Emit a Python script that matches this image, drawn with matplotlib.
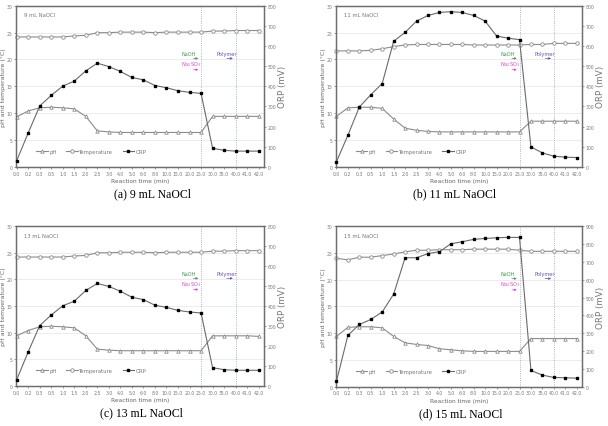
import numpy as np
import matplotlib.pyplot as plt
from matplotlib.lines import Line2D

# reaction time labels (categorical x axis)
times = ['0.0', '0.2', '0.3', '0.5', '1.0', '1.5', '2.0', '2.5', '3.0', '4.0', '5.0',
         '6.0', '8.0', '10.0', '15.0', '20.0', '25.0', '30.0', '35.0', '40.0', '41.0', '42.0']

titles = ['9 mL NaOCl', '11 mL NaOCl', '13 mL NaOCl', '15 mL NaOCl']
captions = ['(a) 9 mL NaOCl', '(b) 11 mL NaOCl', '(c) 13 mL NaOCl', '(d) 15 mL NaOCl']

ph_a = [9.3, 10.4, 11.0, 11.1, 11.0, 10.8, 9.4, 6.7, 6.5, 6.4, 6.4, 6.4, 6.4, 6.4, 6.4, 6.4, 6.4,
        9.4, 9.4, 9.4, 9.4, 9.4]
temp_a = [24.2, 24.2, 24.2, 24.2, 24.2, 24.4, 24.5, 25.0, 25.0, 25.1, 25.1, 25.1, 25.0, 25.1, 25.1,
          25.1, 25.1, 25.3, 25.3, 25.4, 25.4, 25.4]
orp_a = [30, 168, 302, 355, 401, 426, 477, 515, 498, 474, 444, 432, 404, 393, 378, 370, 365,
         92, 82, 78, 78, 78]

ph_b = [9.4, 11.0, 11.1, 11.1, 10.9, 8.9, 7.2, 6.8, 6.6, 6.5, 6.5, 6.5, 6.5, 6.5, 6.5, 6.5, 6.5,
        8.5, 8.5, 8.5, 8.5, 8.5]
temp_b = [21.6, 21.6, 21.6, 21.7, 22.0, 22.4, 22.7, 22.8, 22.8, 22.8, 22.8, 22.8, 22.7, 22.7, 22.7,
          22.7, 22.7, 22.8, 22.8, 23.0, 23.0, 23.0]
orp_b = [25, 157, 297, 358, 414, 624, 668, 724, 752, 767, 771, 767, 752, 724, 650, 639, 632,
         99, 69, 53, 48, 46]

ph_c = [9.4, 10.4, 11.1, 11.2, 11.1, 10.9, 9.4, 6.9, 6.7, 6.6, 6.6, 6.6, 6.6, 6.6, 6.6, 6.6, 6.6,
        9.4, 9.4, 9.4, 9.4, 9.3]
temp_c = [24.2, 24.2, 24.2, 24.2, 24.2, 24.4, 24.5, 25.0, 25.0, 25.1, 25.1, 25.1, 25.0, 25.1, 25.1,
          25.1, 25.1, 25.3, 25.3, 25.4, 25.4, 25.4]
orp_c = [30, 170, 302, 355, 401, 424, 478, 513, 498, 474, 444, 432, 404, 393, 378, 370, 365,
         91, 81, 78, 78, 78]

ph_d = [9.4, 11.1, 11.2, 11.2, 11.0, 9.4, 8.2, 7.9, 7.7, 7.1, 6.9, 6.7, 6.6, 6.6, 6.6, 6.6, 6.6,
        9.0, 9.0, 9.0, 9.0, 9.0]
temp_d = [24.0, 23.7, 24.2, 24.2, 24.5, 24.8, 25.2, 25.5, 25.5, 25.6, 25.6, 25.6, 25.7, 25.7, 25.7,
          25.7, 25.5, 25.3, 25.3, 25.3, 25.3, 25.3]
orp_d = [30, 288, 349, 377, 419, 519, 723, 723, 746, 757, 801, 813, 826, 831, 835, 837, 837,
         91, 65, 52, 50, 48]

ph_all = [ph_a, ph_b, ph_c, ph_d]
temp_all = [temp_a, temp_b, temp_c, temp_d]
orp_all = [orp_a, orp_b, orp_c, orp_d]
orp_max = [800, 800, 800, 900]

fig = plt.figure(figsize=(6.08, 4.27), dpi=100)

# axes boxes [left, bottom, width, height]
boxes = [[0.027, 0.607, 0.407, 0.377],
         [0.553, 0.607, 0.404, 0.377],
         [0.027, 0.094, 0.407, 0.374],
         [0.553, 0.092, 0.404, 0.376]]
cap_pos = [(0.25, 0.531), (0.748, 0.531), (0.232, 0.018), (0.757, 0.016)]

gray = '#8c8c8c'
spine = '#6e6e6e'
x = np.arange(len(times))

for i in range(4):
    ax = fig.add_axes(boxes[i])
    ax2 = ax.twinx()

    ax.set_ylim(0, 30)
    ax.set_xlim(-0.02, len(times) - 0.55)
    ax2.set_ylim(0, orp_max[i])
    ax.set_yticks(range(0, 31, 5))
    ax2.set_yticks(range(0, orp_max[i] + 1, 100))
    ax.set_xticks(x)
    ax.set_xticklabels(times)

    for y in range(5, 30, 5):
        ax.axhline(y, color='#e4e4e4', lw=0.5, zorder=0)
    for xi in (16, 19):
        ax.axvline(xi, color='#8fa0b8', lw=0.6, ls=':', zorder=1)

    ax.plot(x, ph_all[i], color=gray, lw=0.8, marker='^', ms=2.5, mfc='white',
            mec=gray, mew=0.6, clip_on=False, zorder=3)
    ax.plot(x, temp_all[i], color=gray, lw=0.8, marker='o', ms=2.5, mfc='white',
            mec=gray, mew=0.6, clip_on=False, zorder=3)
    ax2.plot(x, orp_all[i], color='#6a6a6a', lw=0.8, marker='s', ms=2.1, mfc='black',
             mec='black', clip_on=False, zorder=3)

    for a in (ax, ax2):
        for s in a.spines.values():
            s.set_color(spine)
            s.set_linewidth(0.9)
        a.tick_params(labelsize=3.3, colors='#777777', length=1.5, width=0.5, pad=1.2)

    ax.set_xlabel('Reaction time (min)', fontsize=4.2, color='#666666', labelpad=2)
    ax.set_ylabel('pH and temperature (°C)', fontsize=4.5, color='#666666', labelpad=0.5)
    ax2.set_ylabel('ORP (mV)', fontsize=6.3, color='#777777', labelpad=1.5)

    ax.text(0.03, 0.96, titles[i], transform=ax.transAxes, fontsize=3.8,
            color='#777777', va='top')

    # chemical dosing annotations
    ax.text(14.3, 20.9, 'NaOH', fontsize=3.6, color='#3f9a4f')
    ax.annotate('', xy=(16, 20.2), xytext=(15.1, 20.2),
                arrowprops=dict(arrowstyle='-|>', color='#3f9a4f', lw=0.5, mutation_scale=3))
    ax.text(14.3, 18.9, 'Na$_2$SO$_3$', fontsize=3.6, color='#e046d8')
    ax.annotate('', xy=(16, 18.1), xytext=(15.1, 18.1),
                arrowprops=dict(arrowstyle='-|>', color='#e046d8', lw=0.5, mutation_scale=3))
    ax.text(17.3, 20.9, 'Polymer', fontsize=3.6, color='#6a4fb0')
    ax.annotate('', xy=(19, 20.2), xytext=(18.0, 20.2),
                arrowprops=dict(arrowstyle='-|>', color='#6a4fb0', lw=0.5, mutation_scale=3))

    handles = [
        Line2D([], [], color=gray, lw=0.8, marker='^', ms=2.5, mfc='white', mec=gray, mew=0.6),
        Line2D([], [], color=gray, lw=0.8, marker='o', ms=2.5, mfc='white', mec=gray, mew=0.6),
        Line2D([], [], color='#6a6a6a', lw=0.8, marker='s', ms=2.1, mfc='black', mec='black'),
    ]
    leg = ax.legend(handles, ['pH', 'Temperature', 'ORP'], loc='lower left',
                    bbox_to_anchor=(0.06, 0.05), ncol=3, frameon=False, fontsize=3.8,
                    handlelength=2.2, columnspacing=1.8, handletextpad=0.3)
    for t in leg.get_texts():
        t.set_color('#777777')

    fig.text(cap_pos[i][0], cap_pos[i][1], captions[i], ha='center', va='bottom',
             fontsize=8.5, family='Liberation Serif')

fig.savefig('out.png', dpi=100)
